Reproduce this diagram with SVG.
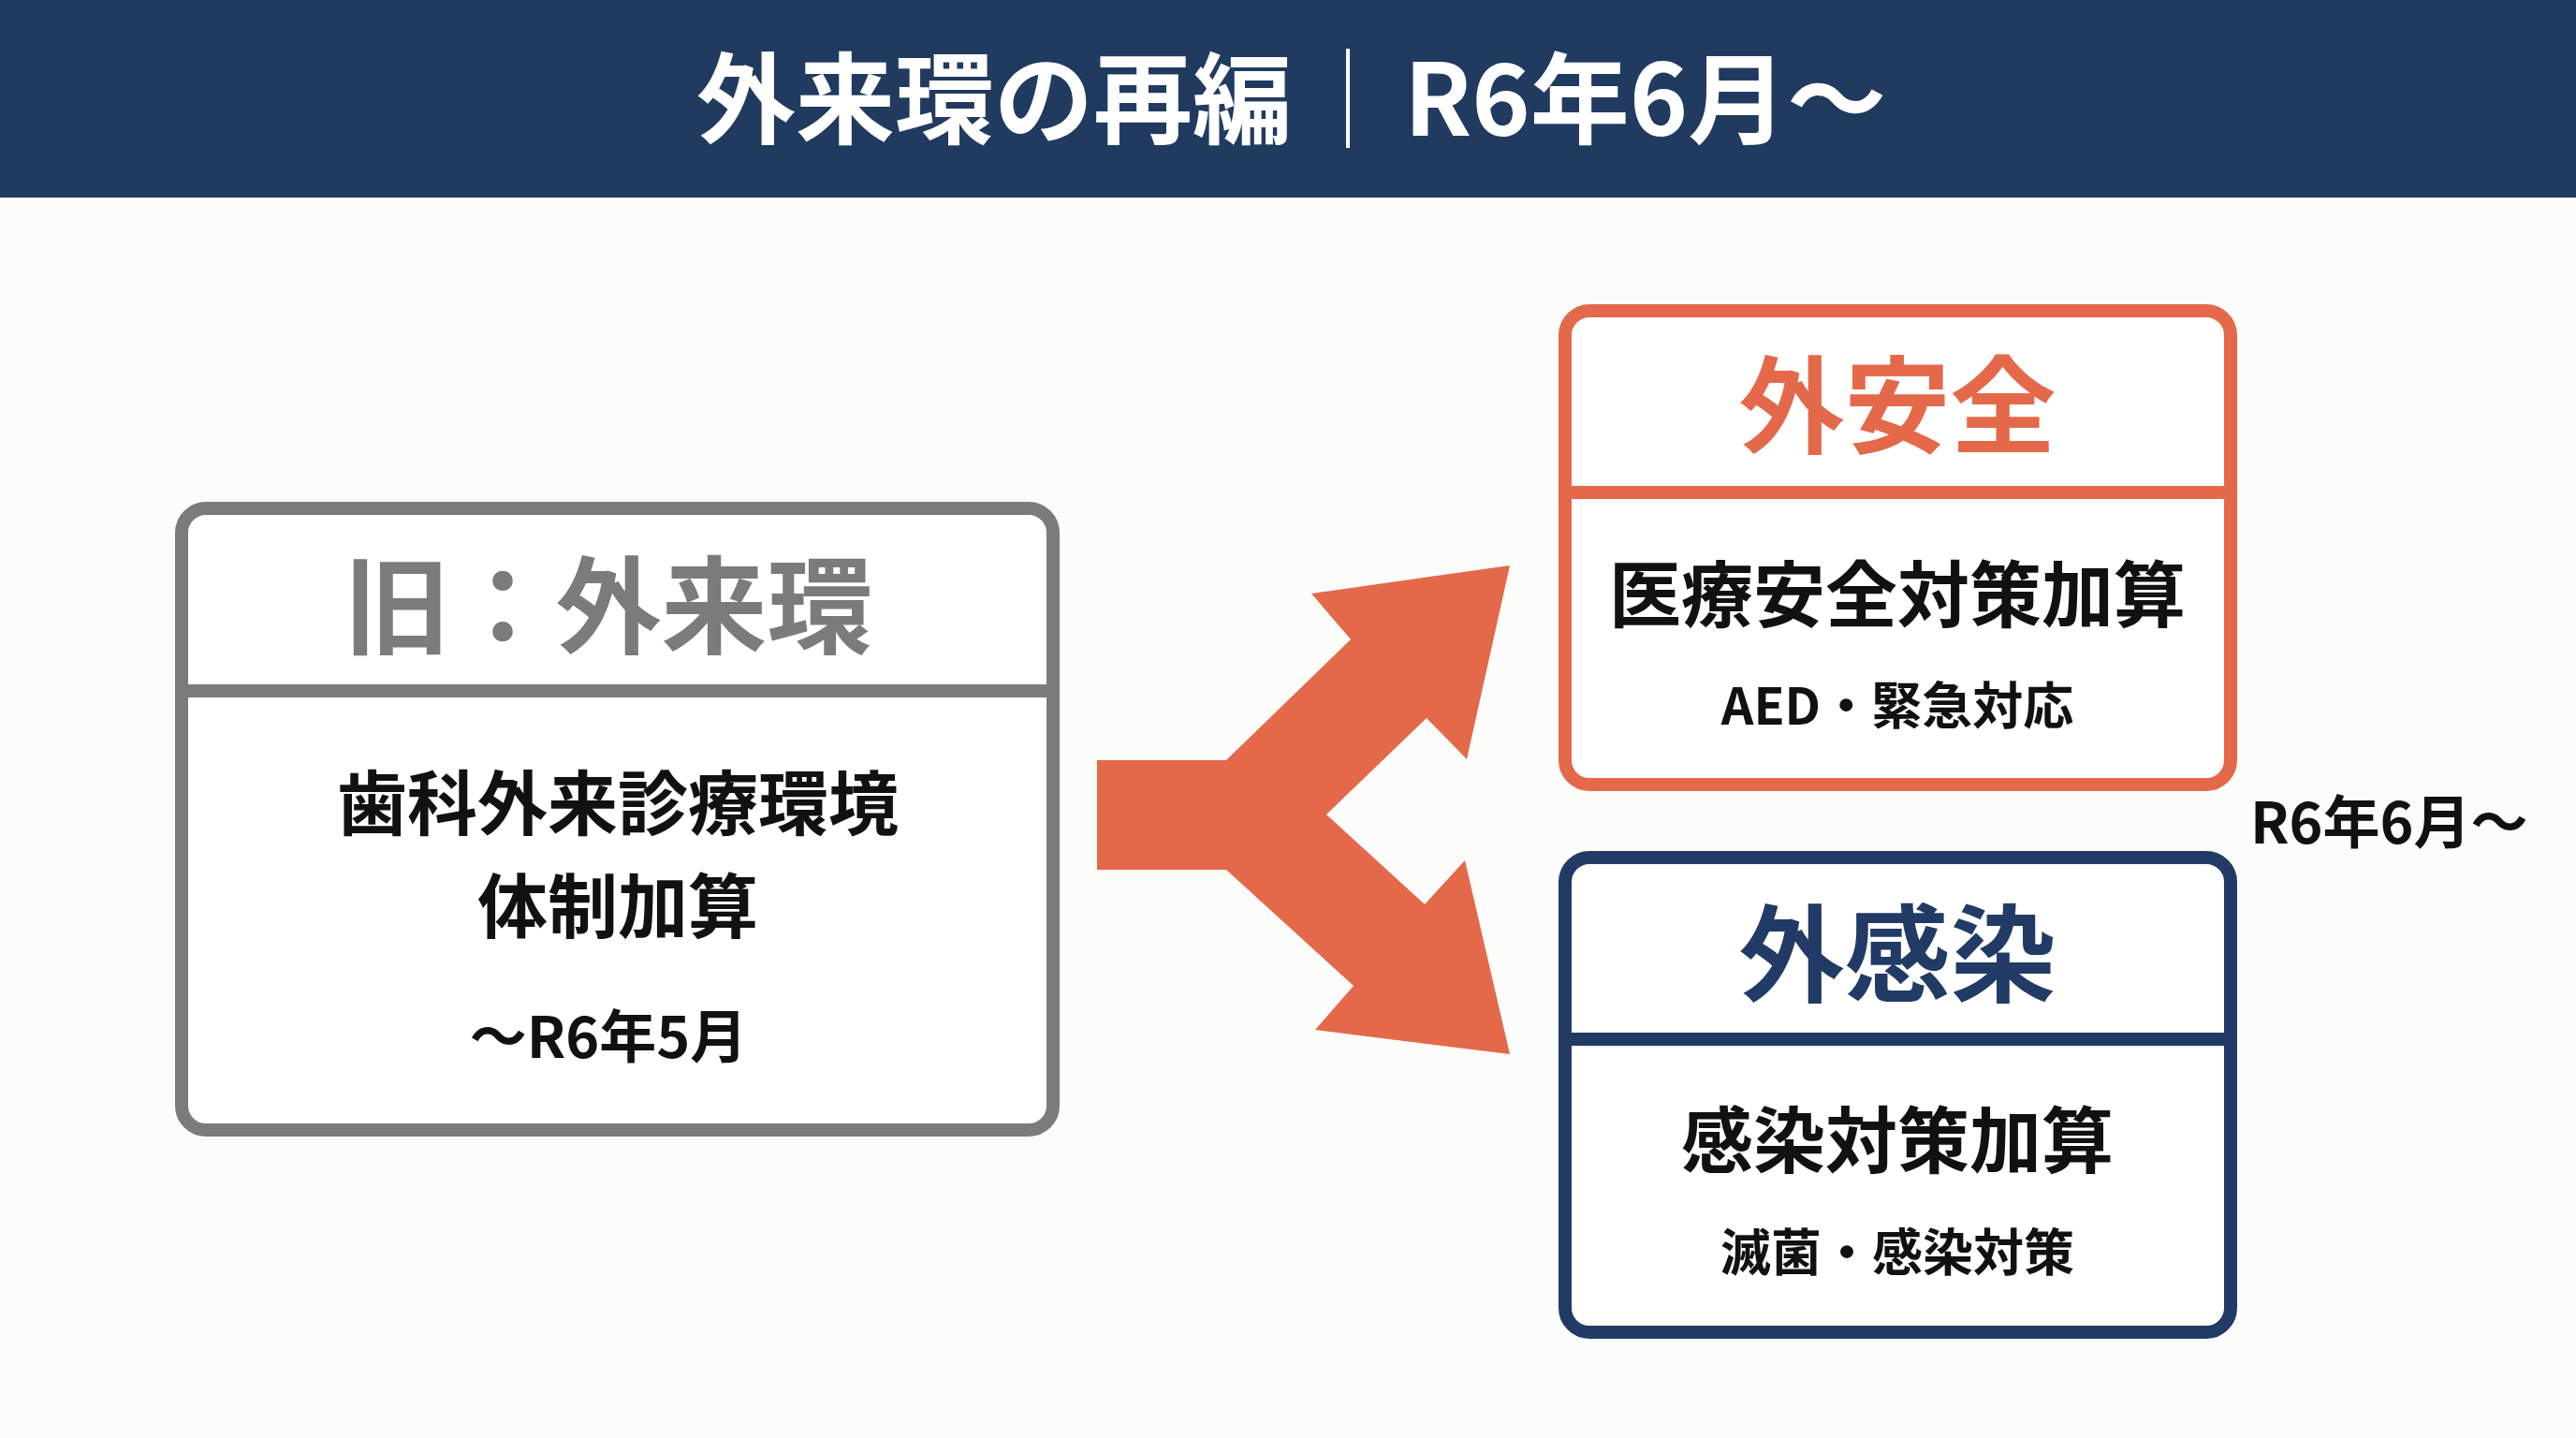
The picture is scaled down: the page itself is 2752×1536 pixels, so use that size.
<svg xmlns="http://www.w3.org/2000/svg" width="2752" height="1536" viewBox="0 0 2752 1536">
<style>
  text { font-family: "Noto Sans CJK JP", "Noto Sans", sans-serif; font-weight: 700; text-anchor: middle; }
  .title { fill: #FFFFFF; font-size: 106px; }
  .box { fill: #FFFFFF; stroke-width: 14; }
  .grey { stroke: #7B7B7B; }
  .orange { stroke: #E4694A; }
  .navy { stroke: #213B66; }
  .div { stroke-width: 14; }
  .main { fill: #111111; font-size: 77px; }
  .sub { fill: #111111; font-size: 54px; }
  .head { font-size: 113px; }
</style>
<rect x="0" y="0" width="2752" height="1536" fill="#FCFCFB"/>
<g id="header">
  <rect x="0" y="0" width="2752" height="211" fill="#213A5F"/>
  <text class="title" x="1062" y="145">外来環の再編</text>
  <text class="title" x="1440" y="145" style="font-weight:300">｜</text>
  <text class="title" x="1500" y="145" style="text-anchor:start">R6年6月〜</text>
</g>
<g id="connectors">
  <polygon fill="#E4694A" points="1172,812 1310,812 1443,683 1401,634 1613,604 1567,811 1524,767 1417,870 1522,966 1565,919 1613,1126 1405,1100 1446,1053 1310,929 1172,929"/>
</g>
<g id="old">
  <rect class="box grey" x="194" y="543" width="931" height="664" rx="26"/>
  <line class="div grey" x1="194" y1="738" x2="1125" y2="738"/>
  <text class="head" x="650" y="689" fill="#7B7B7B">旧：外来環</text>
  <text class="main" x="660" y="886" style="font-size:75px">歯科外来診療環境</text>
  <text class="main" x="660" y="996" style="font-size:75px">体制加算</text>
  <text class="main" x="650" y="1130" style="font-size:61px">〜R6年5月</text>
</g>
<g id="gaianzen">
  <rect class="box orange" x="1672" y="332" width="711" height="506" rx="26"/>
  <line class="div orange" x1="1672" y1="526" x2="2383" y2="526"/>
  <text class="head" x="2027" y="475" fill="#E4694A">外安全</text>
  <text class="main" x="2027" y="664">医療安全対策加算</text>
  <text class="sub" x="2027" y="774">AED・緊急対応</text>
</g>
<g id="gaikansen">
  <rect class="box navy" x="1672" y="916" width="711" height="507" rx="26"/>
  <line class="div navy" x1="1672" y1="1110" x2="2383" y2="1110"/>
  <text class="head" x="2027" y="1061" fill="#213B66">外感染</text>
  <text class="main" x="2027" y="1247">感染対策加算</text>
  <text class="sub" x="2027" y="1358">滅菌・感染対策</text>
</g>
<g id="label">
  <text x="2404" y="901" fill="#111111" style="font-size:61px;text-anchor:start">R6年6月〜</text>
</g>
</svg>
